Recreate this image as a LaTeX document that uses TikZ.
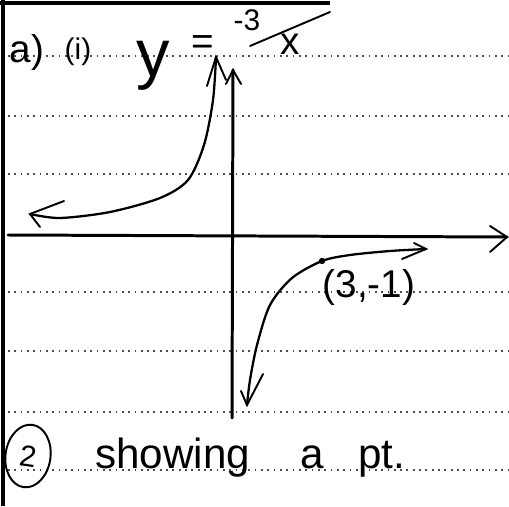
\documentclass[tikz,border=0pt]{standalone}
\usepackage{fontspec}
\setmainfont{Liberation Sans}
\usetikzlibrary{shapes.geometric}

\begin{document}
\begin{tikzpicture}[
    x=0.02cm, y=-0.02cm,
    every node/.style={inner sep=0pt},
    ruled/.style={line width=0.6pt, black!70, dash pattern=on 1pt off 2.6pt},
    margin/.style={line width=2.6pt},
    axis/.style={line width=1.7pt, line cap=round},
    curve/.style={line width=1.3pt, line cap=round, line join=round},
    barb/.style={line width=1.1pt, line cap=round},
    hand/.style={font=\fontsize{22}{26}\selectfont},
    handsmall/.style={font=\fontsize{17}{20}\selectfont},
    handbig/.style={font=\fontsize{24}{28}\selectfont}
]
\fill[white] (0,0) rectangle (509,506);
\useasboundingbox (0,0) rectangle (509,506);

% ruled paper
\foreach \ry in {56,116,174,292,351,412,470}
    \draw[ruled] (8,\ry) -- (509,\ry);
\draw[margin] (3,0) -- (3,506);
\draw[margin] (0,3) -- (330,3);

% question label and equation
\node[hand] (qa) at (27,53) {a)};
\node[handsmall] (qi) at (78,52) {(i)};
\node[font=\fontsize{38}{42}\selectfont] (ylab) at (153,66) {y};
\node[hand] (eq) at (203,45) {=};
\node[handsmall] (num) at (247,20) {-3};
\node[hand] (den) at (290,44) {x};
\coordinate (sa) at (250,46);
\coordinate (sb) at (330,12);
\draw[barb] (sa) -- (sb);

% axes
\coordinate (xl) at (8,235);
\coordinate (xr) at (507,237);
\coordinate (yt) at (233,70);
\coordinate (yb) at (232,418);
\draw[axis] (xl) -- (xr);
\draw[barb] (490,226) -- (xr) -- (490,252);
\draw[axis] (yt) -- (yb);
\draw[barb] (226,84) -- (yt) -- (241,84);

% upper left branch
\coordinate (ta) at (216,57);
\coordinate (tb) at (30,214);
\draw[curve] plot[smooth] coordinates {(ta) (213,100) (204,145) (188,180) (160,198) (110,212) (60,218) (tb)};
\draw[barb] (207,86) -- (ta) -- (226,80);
\draw[barb] (64,201) -- (tb) -- (40,227);

% lower right branch
\coordinate (ra) at (426,249);
\coordinate (pt) at (322,261);
\coordinate (rb) at (247,405);
\draw[curve] plot[smooth] coordinates {(ra) (390,251) (350,255) (pt) (292,278) (270,305) (257,345) (250,380) (rb)};
\draw[barb] (414,243) -- (ra) -- (402,259);
\draw[barb] (241,391) -- (rb) -- (263,374);
\fill (pt) circle (3.2);
\node[hand] (ptlab) at (369,287) {(3,-1)};

% note
\node[draw, ellipse, line width=1.1pt, minimum width=0.9cm, minimum height=1.26cm,
    rotate=-8, handsmall] (ctwo) at (28,456) {2};
\node[handbig, anchor=base west] (wshow) at (95,468) {showing};
\node[handbig, anchor=base west] (wa) at (300,468) {a};
\node[handbig, anchor=base west] (wpt) at (358,468) {pt.};

\end{tikzpicture}
\end{document}
